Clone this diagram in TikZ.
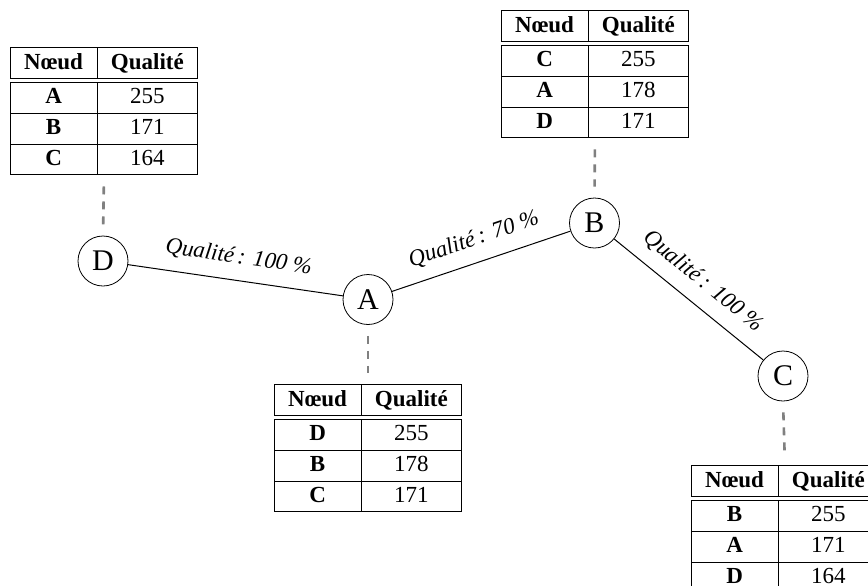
\documentclass[tikz,border=0pt]{standalone}
\usepackage{fontspec}
\setmainfont{Liberation Serif}
\usepackage{tikz}

\setlength{\tabcolsep}{7pt}
\renewcommand{\arraystretch}{1.1}
\newcommand{\tabqual}[6]{%
 \begin{tabular}{|c|c|}
 \hline \textbf{Nœud} & \textbf{Qualité}\\
 \hline\hline \textbf{#1} & #2\\
 \hline \textbf{#3} & #4\\
 \hline \textbf{#5} & #6\\
 \hline
 \end{tabular}}

\begin{document}
\begin{tikzpicture}[x=0.5pt,y=-0.5pt,font=\fontsize{11.5}{13.6}\selectfont,
 station/.style={circle,draw,minimum size=25pt,inner sep=0pt,font=\fontsize{15}{18}\selectfont},
 qual/.style={sloped,above=3pt,font=\fontsize{11.5}{13.6}\selectfont\itshape},
 rattache/.style={draw=black!50,line width=1.3pt,dash pattern=on 4pt off 3.5pt,shorten <=5.5pt,shorten >=5.5pt},
 tab/.style={inner sep=0pt,anchor=north}]
 \useasboundingbox (0,0) rectangle (868,585);
 % stations
 \node[station] (D) at (103,261) {D};
 \node[station] (A) at (368,299.5) {A};
 \node[station] (B) at (594.5,223) {B};
 \node[station] (C) at (783,376) {C};
 % liaisons
 \draw[line width=0.5pt] (D) -- node[qual]{Qualité\,: 100~\%} (A);
 \draw[line width=0.5pt] (A) -- node[qual]{Qualité\,: 70~\%} (B);
 \draw[line width=0.5pt] (B) -- node[qual]{Qualité\,: 100~\%} (C);
 % tables de routage
 \node[tab] (tD) at (104,47) {\tabqual{A}{255}{B}{171}{C}{164}};
 \node[tab] (tB) at (595,10) {\tabqual{C}{255}{A}{178}{D}{171}};
 \node[tab] (tA) at (368,384) {\tabqual{D}{255}{B}{178}{C}{171}};
 \node[tab] (tC) at (785,465) {\tabqual{B}{255}{A}{171}{D}{164}};
 \draw[rattache] (tD.south) -- (D.north);
 \draw[rattache] (A.south) -- (tA.north);
 \draw[rattache] (tB.south) -- (B.north);
 \draw[rattache] (C.south) -- (tC.north);
\end{tikzpicture}
\end{document}
